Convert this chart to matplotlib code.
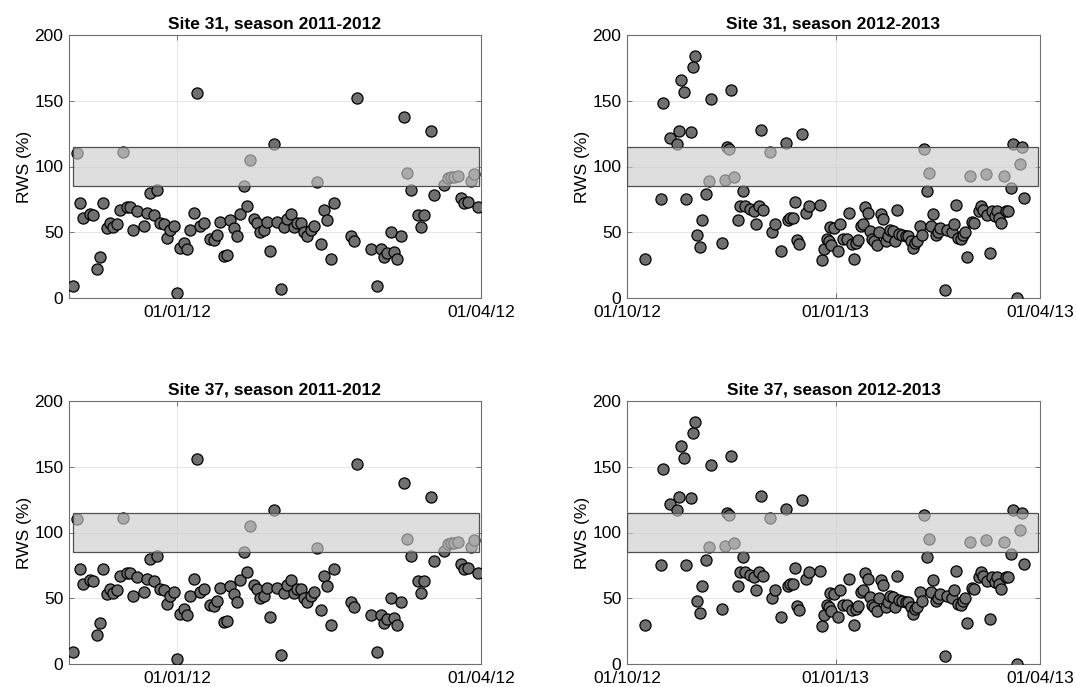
import datetime as dt
import numpy as np
import matplotlib; matplotlib.use("Agg")
import matplotlib.pyplot as plt
import matplotlib.dates as mdates
from matplotlib.patches import Rectangle

plt.rcParams["font.family"] = ["Liberation Sans", "DejaVu Sans"]

# Season 2011-2012: days from 01/01/2012 and RWS (%)
days_1112 = [-31, -30, -29, -28, -26, -25, -24, -23, -22, -21, -20, -19, -18, -17, -16, -15,
             -14, -13, -12, -10, -9, -8, -7, -6, -5, -4, -3, -2, -1, 0, 1, 2, 3, 4, 5, 6, 7, 8,
             10, 11, 12, 13, 14, 15, 16, 17, 18, 19, 20, 21, 22, 23, 24, 25, 26, 27, 28, 29, 30,
             31, 32, 33, 34, 35, 36, 37, 38, 39, 40, 41, 42, 43, 44, 45, 46, 47, 52, 53, 54, 58,
             60, 61, 62, 63, 64, 65, 66, 67, 68, 69, 70, 72, 73, 74, 76, 77, 80, 81, 82, 83, 84,
             85, 86, 87, 88, 89, 90]
rws_1112 = [9, 110, 72, 61, 64, 63, 22, 31, 72, 53, 57, 54, 56, 67, 111, 69,
            69, 52, 66, 55, 65, 80, 63, 82, 57, 56, 46, 52, 55, 4, 38, 42, 37, 52, 65, 156, 55, 57,
            45, 44, 48, 58, 32, 33, 59, 53, 47, 64, 85, 70, 105, 60, 57, 50, 52, 58, 36, 117, 58,
            7, 54, 60, 64, 54, 57, 57, 50, 47, 52, 55, 88, 41, 67, 59, 30, 72, 47, 43, 152, 37,
            9, 37, 31, 34, 50, 35, 30, 47, 138, 95, 82, 63, 54, 63, 127, 78, 86, 91, 92, 92, 93,
            76, 72, 73, 89, 94, 69]

# Season 2012-2013: days from 01/10/2012 and RWS (%)
days_1213 = [8, 15, 16, 19, 22, 23, 24, 25, 26, 28, 29, 30, 31, 32, 33, 35, 36, 37, 42, 43, 44,
             45, 46, 47, 49, 50, 51, 52, 54, 56, 57, 58, 59, 60, 63, 64, 65, 68, 70, 71, 72, 73,
             74, 75, 76, 77, 79, 80, 85, 86, 87, 88, 89, 89.5, 90, 91, 93, 94, 95, 97, 98, 99,
             100, 101, 102, 103, 104, 105, 106, 107, 108, 109, 110, 111, 112, 113, 114, 115, 116,
             117, 118, 119, 120, 121, 123, 124, 125, 126, 127, 128, 129, 130, 131, 132, 133, 134,
             135, 136, 137, 138, 140, 141, 143, 144, 145, 146, 147, 148, 149, 150, 151, 152, 153,
             155, 156, 157, 158, 158.5, 160, 161, 162, 163, 164, 165, 166, 167, 168, 169, 170,
             172, 173, 174, 175]
rws_1213 = [30, 75, 148, 122, 117, 127, 166, 157, 75, 126, 176, 184, 48, 39, 59, 79, 89, 151, 42, 90, 115,
            113, 158, 92, 59, 70, 81, 70, 68, 66, 56, 70, 128, 67, 111, 50, 56, 36, 118, 59, 61, 61,
            73, 44, 41, 125, 65, 70, 71, 29, 37, 45, 43, 54, 40, 53, 36, 56, 45, 45, 65, 41,
            30, 42, 44, 55, 56, 69, 65, 51, 45, 43, 40, 50, 64, 60, 43, 47, 52,
            51, 43, 67, 49, 48, 47, 47, 43, 38, 42, 43, 55, 48, 113, 81, 95, 55,
            64, 48, 50, 53, 6, 52, 50, 56, 71, 46, 45, 48, 50, 31, 93, 58, 57,
            66, 70, 67, 94, 63, 34, 66, 62, 66, 61, 57, 93, 66, 66, 84, 117,
            0, 102, 115, 76]

band_lo, band_hi = 85, 115

seasons = {
    "2011-2012": dict(base=dt.datetime(2012, 1, 1), days=days_1112, rws=rws_1112,
                      xlim=(-32.3, 91), band=(-31.2, 90.3)),
    "2012-2013": dict(base=dt.datetime(2012, 10, 1), days=days_1213, rws=rws_1213,
                      xlim=(0, 182), band=(0, 181)),
}
# both sites show the same series in the figure
panels = [("31", "2011-2012"), ("31", "2012-2013"), ("37", "2011-2012"), ("37", "2012-2013")]

fig = plt.figure(figsize=(10.76, 6.87), dpi=100)
W, H = 1076, 687
boxes = [(69, 35, 481, 298), (627, 35, 1040, 298), (69, 401, 481, 664), (627, 401, 1040, 664)]

for (site, season), (x0, y0, x1, y1) in zip(panels, boxes):
    ax = fig.add_axes([x0 / W, 1 - y1 / H, (x1 - x0) / W, (y1 - y0) / H])
    s = seasons[season]
    b = mdates.date2num(s["base"])
    x = b + np.array(s["days"], dtype=float)
    ax.plot(x, s["rws"], "o", ms=8, mfc="#707070", mec="black", mew=0.9, zorder=3)
    # band patch drawn over the points, semi-transparent
    ax.add_patch(Rectangle((b + s["band"][0], band_lo), s["band"][1] - s["band"][0], band_hi - band_lo,
                           facecolor=(0.8, 0.8, 0.8, 0.64), edgecolor="#505050", lw=0.9, zorder=4))
    ax.set_xlim(b + s["xlim"][0], b + s["xlim"][1])
    ax.set_ylim(0, 200)
    ax.set_yticks([0, 50, 100, 150, 200])
    ax.xaxis.set_major_locator(mdates.MonthLocator(bymonth=[1, 4, 10]))
    ax.xaxis.set_major_formatter(mdates.DateFormatter("%d/%m/%y"))
    ax.grid(True, color="#e6e6e6", lw=0.7, zorder=0)
    ax.set_axisbelow(True)
    ax.tick_params(direction="in", length=3.5, width=0.6, color="#606060",
                   top=True, right=True, labelsize=12.5, pad=4)
    ax.tick_params(axis="x", pad=5)
    for sp in ax.spines.values():
        sp.set_color("#707070"); sp.set_linewidth(0.8)
    ax.set_ylabel("RWS (%)", fontsize=12.5, labelpad=1.5)
    ax.set_title(f"Site {site}, season {season}", fontsize=12.5, fontweight="bold", pad=5)

fig.savefig("out.png", dpi=100)
